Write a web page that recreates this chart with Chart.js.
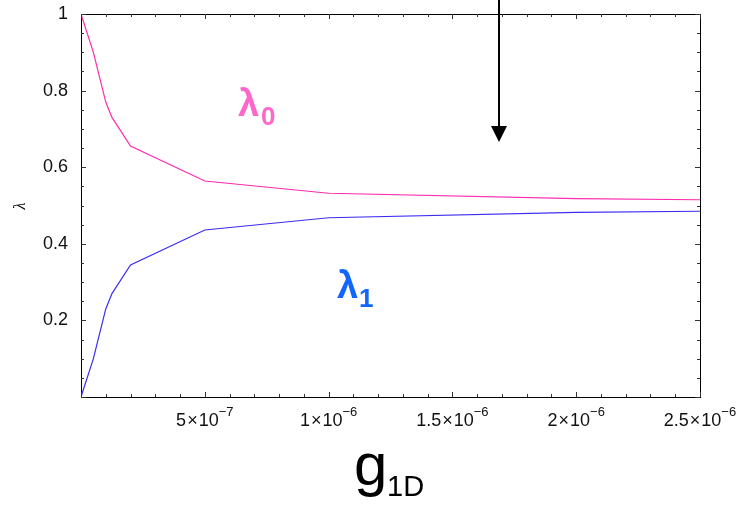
<!DOCTYPE html>
<html>
<head>
<meta charset="utf-8">
<script src="https://cdn.jsdelivr.net/npm/chart.js@4.4.1/dist/chart.umd.min.js"></script>
<style>
  html, body { margin: 0; padding: 0; background: #fff; }
  #wrap { width: 745px; height: 505px; }
</style>
</head>
<body>
<div id="wrap"><canvas id="grafica" width="745" height="505"></canvas></div>
<script>
// coupling g1D and the two eigenvalues
const gValues  = [0, 5e-8, 1e-7, 1.25e-7, 2e-7, 5e-7, 1e-6, 2e-6, 2.5e-6];
const lambda0  = [1, 0.90, 0.77, 0.73, 0.655, 0.564, 0.532, 0.518, 0.515];
const lambda1  = [0, 0.10, 0.23, 0.27, 0.345, 0.436, 0.468, 0.482, 0.485];

// axis ticks
const xTickValues   = [5e-7, 1e-6, 1.5e-6, 2e-6, 2.5e-6];
const xTickMantissa = ['5', '1', '1.5', '2', '2.5'];
const xTickExponent = ['\u22127', '\u22126', '\u22126', '\u22126', '\u22126'];
const yTickValues   = [0, 0.2, 0.4, 0.6, 0.8, 1];
const yTickLabels   = ['', '0.2', '0.4', '0.6', '0.8', '1'];

const FONT = '"Liberation Sans", Arial, sans-serif';
const PINK = '#ff2bb0';
const BLUE = '#3c2cf5';

const toPoints = ys => gValues.map((g, i) => ({ x: g, y: ys[i] }));

// frame, inward ticks, x labels with exponents, titles, annotations
const decoraciones = {
    id: 'decoraciones',
    afterDraw(chart) {
        const { ctx, chartArea: a, scales: { x, y } } = chart;
        ctx.save();

        // frame
        ctx.strokeStyle = '#000';
        ctx.lineWidth = 1;
        ctx.strokeRect(Math.round(a.left) + 0.5, Math.round(a.top) + 0.5,
                       Math.round(a.right - a.left), Math.round(a.bottom - a.top));

        // ticks on all four sides
        ctx.strokeStyle = '#333';
        ctx.beginPath();
        for (let i = 0; i <= 25; i++) {
            const px = Math.round(x.getPixelForValue(i * 1e-7)) + 0.5;
            const len = i % 5 === 0 ? 5 : 3;
            ctx.moveTo(px, a.bottom); ctx.lineTo(px, a.bottom - len);
            ctx.moveTo(px, a.top);    ctx.lineTo(px, a.top + len);
        }
        for (let i = 0; i <= 20; i++) {
            const py = Math.round(y.getPixelForValue(i * 0.05)) + 0.5;
            const len = i % 4 === 0 ? 5 : 3;
            ctx.moveTo(a.left, py);  ctx.lineTo(a.left + len, py);
            ctx.moveTo(a.right, py); ctx.lineTo(a.right - len, py);
        }
        ctx.stroke();

        // x tick labels: m × 10^e
        ctx.fillStyle = '#111';
        ctx.textBaseline = 'alphabetic';
        ctx.textAlign = 'left';
        const base = 426;
        xTickValues.forEach((v, i) => {
            ctx.font = '18px ' + FONT;
            const wM = ctx.measureText(xTickMantissa[i]).width;
            const wX = ctx.measureText('\u00d7').width;
            const wT = ctx.measureText('10').width;
            ctx.font = '13px ' + FONT;
            const wE = ctx.measureText(xTickExponent[i]).width;
            const total = wM + 1 + wX + 1 + wT + wE;
            let cx = x.getPixelForValue(v) - total / 2;
            ctx.font = '18px ' + FONT;
            ctx.fillText(xTickMantissa[i], cx, base); cx += wM + 1;
            ctx.fillText('\u00d7', cx, base);         cx += wX + 1;
            ctx.fillText('10', cx, base);             cx += wT;
            ctx.font = '13px ' + FONT;
            ctx.fillText(xTickExponent[i], cx, base - 10);
        });

        // x title g1D
        ctx.fillStyle = '#000';
        ctx.font = '60px ' + FONT;
        ctx.fillText('g', 354, 485);
        ctx.font = '29px ' + FONT;
        ctx.fillText('1D', 387, 496);

        // y title
        ctx.save();
        ctx.translate(25, 206);
        ctx.rotate(-Math.PI / 2);
        ctx.textAlign = 'center';
        ctx.font = 'italic 16px "Liberation Serif", serif';
        ctx.fillText('\u03bb', 0, 0);
        ctx.restore();

        // curve labels
        ctx.fillStyle = '#ff66cc';
        ctx.font = 'bold 38px ' + FONT;
        ctx.fillText('\u03bb', 238, 116);
        ctx.font = 'bold 26px ' + FONT;
        ctx.fillText('0', 261, 125);

        ctx.fillStyle = '#1166ff';
        ctx.font = 'bold 38px ' + FONT;
        ctx.fillText('\u03bb', 337, 298);
        ctx.font = 'bold 26px ' + FONT;
        ctx.fillText('1', 359, 307);

        // arrow
        ctx.strokeStyle = '#000';
        ctx.fillStyle = '#000';
        ctx.lineWidth = 2;
        ctx.beginPath();
        ctx.moveTo(499, 0); ctx.lineTo(499, 128);
        ctx.stroke();
        ctx.beginPath();
        ctx.moveTo(491, 126); ctx.lineTo(507, 126); ctx.lineTo(499, 142);
        ctx.closePath();
        ctx.fill();

        ctx.restore();
    }
};

new Chart(document.getElementById('grafica'), {
    type: 'line',
    data: {
        datasets: [
            { label: 'lambda0', data: toPoints(lambda0), borderColor: PINK, borderWidth: 1.2, pointRadius: 0, tension: 0 },
            { label: 'lambda1', data: toPoints(lambda1), borderColor: BLUE, borderWidth: 1.2, pointRadius: 0, tension: 0 }
        ]
    },
    options: {
        responsive: false,
        animation: false,
        devicePixelRatio: 1,
        layout: { padding: { top: 14, right: 45, left: 0, bottom: 0 } },
        plugins: { legend: { display: false }, tooltip: { enabled: false } },
        scales: {
            x: {
                type: 'linear', min: 0, max: 2.5e-6,
                grid: { display: false },
                border: { display: false },
                ticks: { display: false },
                afterFit: s => { s.height = 108; s.paddingLeft = 0; s.paddingRight = 0; }
            },
            y: {
                type: 'linear', min: 0, max: 1,
                grid: { display: false, drawTicks: false },
                border: { display: false },
                afterBuildTicks: s => { s.ticks = yTickValues.map(v => ({ value: v })); },
                ticks: {
                    padding: 13,
                    color: '#111',
                    font: { family: FONT, size: 18 },
                    callback: (v, i) => yTickLabels[i]
                },
                afterFit: s => { s.width = 81; s.paddingTop = 0; s.paddingBottom = 0; }
            }
        }
    },
    plugins: [decoraciones]
});
</script>
</body>
</html>
